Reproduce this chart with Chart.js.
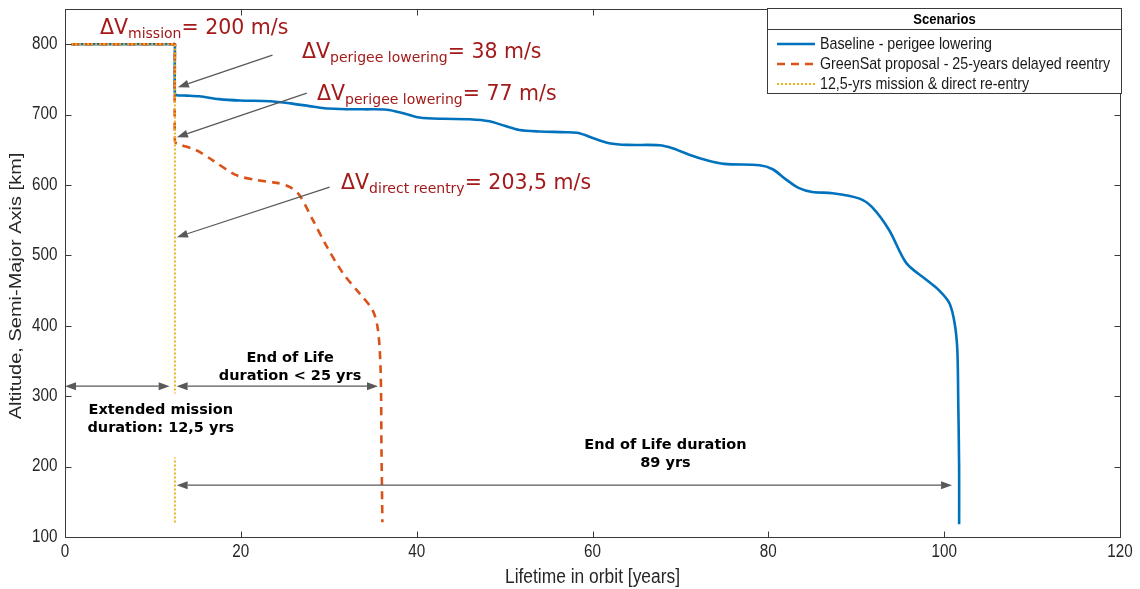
<!DOCTYPE html>
<html><head><meta charset="utf-8">
<script src="https://cdn.jsdelivr.net/npm/chart.js@4.4.1/dist/chart.umd.min.js"></script>
<style>html,body{margin:0;padding:0;background:#fff;}#wrap{width:1140px;height:589px;}</style>
</head><body><div id="wrap"><canvas id="c" width="1140" height="589"></canvas></div>
<script>
// ---------- data ----------
const xTicks = [0, 20, 40, 60, 80, 100, 120];
const yTicks = [100, 200, 300, 400, 500, 600, 700, 800];
const xTitle = 'Lifetime in orbit [years]';
const yTitle = 'Altitude, Semi-Major Axis [km]';
const legendTitle = 'Scenarios';
const seriesNames = ['Baseline - perigee lowering', 'GreenSat proposal - 25-years delayed reentry', '12,5-yrs mission & direct re-entry'];

// [years, km]
const baseline = [[0.7,800],[12.3,800],[12.5,800],[12.5,795],[12.5,730],[12.7,727.5],[13.8,727],[15.3,726],[17.5,722],[19.9,720],[23.3,719],[25.6,716],[27.8,712],[29.5,709],[31.3,708],[34,707.5],[36.6,707],[38.5,702],[40.3,696],[43,694],[46,693.5],[48.3,690.6],[50,684],[51.7,678],[54,676],[57,675],[58.5,673.6],[60.2,666],[61.9,659.4],[64,657],[67.6,656.5],[69.1,652.3],[71,643],[73,635.2],[75,630],[79,628],[80.5,622.4],[82,608],[83.5,595.5],[85,590],[87.3,588.4],[90.3,581],[91.8,568.5],[93.75,535.8],[95.7,489],[98,465],[99.4,450.6],[100.6,432],[101.2,403],[101.5,365],[101.6,294],[101.7,200],[101.7,118]];
const greenSat = [[0.7,800],[12.3,800],[12.5,800],[12.5,795],[12.5,662],[12.7,659],[15,649],[16.8,635],[19.5,614],[21.8,607],[24.1,603],[25.6,597],[26.7,585],[28.2,550],[29.8,512],[31.6,475],[33.5,446],[35,422],[35.6,394],[35.9,337],[36,223],[36.1,121]];
const directReentry = [[0.7,800],[12.5,800],[12.5,120]];

const toPts = a => a.map(p => ({x: p[0], y: p[1]}));

// ---------- drawing helpers ----------
const RED = '#a31a1a';
const GRAY = '#595959';
const SX = 0.87; // horizontal compression of the axis/legend lettering in the reference

function sqText(ctx, text, x, y, align, baseline, sx) {
  ctx.save();
  ctx.translate(x, y);
  ctx.scale(sx === undefined ? SX : sx, 1);
  ctx.textAlign = align || 'left';
  ctx.textBaseline = baseline || 'alphabetic';
  ctx.fillText(text, 0, 0);
  ctx.restore();
}

function arrowHead(ctx, x1, y1, x2, y2, len, hw) {
  const a = Math.atan2(y2 - y1, x2 - x1);
  ctx.beginPath();
  ctx.moveTo(x2, y2);
  ctx.lineTo(x2 - len*Math.cos(a) + hw*Math.sin(a), y2 - len*Math.sin(a) - hw*Math.cos(a));
  ctx.lineTo(x2 - len*Math.cos(a) - hw*Math.sin(a), y2 - len*Math.sin(a) + hw*Math.cos(a));
  ctx.closePath();
  ctx.fill();
}
function arrow(ctx, x1, y1, x2, y2, both) {
  const len = 11, hw = 4;
  const a = Math.atan2(y2 - y1, x2 - x1);
  ctx.beginPath();
  const sx = both ? x1 + len*Math.cos(a) : x1, sy = both ? y1 + len*Math.sin(a) : y1;
  ctx.moveTo(sx, sy);
  ctx.lineTo(x2 - len*Math.cos(a), y2 - len*Math.sin(a));
  ctx.stroke();
  arrowHead(ctx, x1, y1, x2, y2, len, hw);
  if (both) arrowHead(ctx, x2, y2, x1, y1, len, hw);
}
function dvText(ctx, x, y, sub, rest) {
  ctx.fillStyle = RED;
  ctx.textAlign = 'left';
  ctx.textBaseline = 'alphabetic';
  const big = '20.5px "DejaVu Sans"', small = '14px "DejaVu Sans"';
  ctx.font = big;
  ctx.fillText('ΔV', x, y);
  let w = ctx.measureText('ΔV').width;
  ctx.font = small;
  ctx.fillText(sub, x + w, y + 4);
  w += ctx.measureText(sub).width;
  ctx.font = big;
  ctx.fillText(rest, x + w, y);
}

const annotations = {
  id: 'annotations',
  afterDatasetsDraw(chart) {
    const ctx = chart.ctx;
    const X = v => chart.scales.x.getPixelForValue(v);
    const Y = v => chart.scales.y.getPixelForValue(v);
    ctx.save();
    // white text box of the mission label (hides the dotted line behind it)
    ctx.fillStyle = '#fff';
    ctx.fillRect(X(2.2), Y(304), X(20) - X(2.2), Y(213) - Y(304));

    ctx.strokeStyle = GRAY; ctx.fillStyle = GRAY; ctx.lineWidth = 1.3;
    arrow(ctx, X(23.6), Y(784.4), X(12.84), Y(738.9), false);
    arrow(ctx, X(27.5), Y(730.4), X(12.73), Y(667.9), false);
    arrow(ctx, X(30.1), Y(596.9), X(12.73), Y(525.9), false);
    arrow(ctx, X(0), Y(314.2), X(11.9), Y(314.2), true);
    arrow(ctx, X(12.7), Y(314.2), X(35.6), Y(314.2), true);
    arrow(ctx, X(12.7), Y(173.6), X(100.9), Y(173.6), true);

    dvText(ctx, X(3.98), Y(814), 'mission', '= 200 m/s');
    dvText(ctx, X(26.96), Y(781), 'perigee lowering', '= 38 m/s');
    dvText(ctx, X(28.67), Y(720.5), 'perigee lowering', '= 77 m/s');
    dvText(ctx, X(31.4), Y(594.5), 'direct reentry', '= 203,5 m/s');

    ctx.fillStyle = '#000';
    ctx.font = 'bold 14.5px "DejaVu Sans"';
    sqText(ctx, 'Extended mission', X(10.9), Y(280), 'center', 'middle', 1);
    sqText(ctx, 'duration: 12,5 yrs', X(10.9), Y(255), 'center', 'middle', 1);
    sqText(ctx, 'End of Life', X(25.6), Y(354), 'center', 'middle', 1);
    sqText(ctx, 'duration < 25 yrs', X(25.6), Y(328.5), 'center', 'middle', 1);
    sqText(ctx, 'End of Life duration', X(68.3), Y(230), 'center', 'middle', 1);
    sqText(ctx, '89 yrs', X(68.3), Y(205), 'center', 'middle', 1);
    ctx.restore();
  }
};

const matlabAxes = {
  id: 'matlabAxes',
  afterDraw(chart) {
    const ctx = chart.ctx, a = chart.chartArea;
    const X = v => chart.scales.x.getPixelForValue(v);
    const Y = v => chart.scales.y.getPixelForValue(v);
    ctx.save();
    ctx.strokeStyle = '#3a3a3a'; ctx.lineWidth = 1;
    const L = Math.round(a.left) + 0.5, R = Math.round(a.right) + 0.5, T = Math.round(a.top) + 0.5, B = Math.round(a.bottom) + 0.5;
    ctx.strokeRect(L, T, R - L, B - T);
    ctx.beginPath();
    xTicks.forEach(v => { const px = Math.round(X(v)) + 0.5; ctx.moveTo(px, B); ctx.lineTo(px, B - 6); ctx.moveTo(px, T); ctx.lineTo(px, T + 6); });
    yTicks.forEach(v => { const py = Math.round(Y(v)) + 0.5; ctx.moveTo(L, py); ctx.lineTo(L + 6, py); ctx.moveTo(R, py); ctx.lineTo(R - 6, py); });
    ctx.stroke();
    ctx.fillStyle = '#262626';
    ctx.font = '17.5px "Liberation Sans"';
    xTicks.forEach(v => sqText(ctx, String(v), X(v), B + 6, 'center', 'top'));
    yTicks.forEach(v => sqText(ctx, String(v), L - 8, Y(v), 'right', 'middle'));
    ctx.font = '20px "Liberation Sans"';
    sqText(ctx, xTitle, (a.left + a.right) / 2, 577, 'center', 'middle');
    ctx.save();
    ctx.translate(16, 286);
    ctx.rotate(-Math.PI / 2);
    ctx.scale(1, SX);
    ctx.textAlign = 'center'; ctx.textBaseline = 'middle';
    ctx.fillText(yTitle, 0, 0);
    ctx.restore();

    // legend
    const lx = 767.5, ly = 8.5, lw = 354, lh = 85;
    ctx.fillStyle = '#fff';
    ctx.fillRect(lx, ly, lw, lh);
    ctx.strokeStyle = '#3a3a3a';
    ctx.strokeRect(lx, ly, lw, lh);
    ctx.beginPath(); ctx.moveTo(lx, 29.5); ctx.lineTo(lx + lw, 29.5); ctx.stroke();
    ctx.fillStyle = '#000';
    ctx.font = 'bold 15px "Liberation Sans"';
    sqText(ctx, legendTitle, lx + lw / 2, 19.5, 'center', 'middle');
    const ds = chart.data.datasets;
    const rows = [44, 64, 84];
    ds.forEach((d, i) => {
      ctx.save();
      ctx.strokeStyle = d.borderColor; ctx.lineWidth = d.borderWidth;
      ctx.setLineDash(d.borderDash || []);
      ctx.beginPath(); ctx.moveTo(777, rows[i]); ctx.lineTo(815, rows[i]); ctx.stroke();
      ctx.restore();
      ctx.fillStyle = '#1a1a1a';
      ctx.font = '16.4px "Liberation Sans"';
      sqText(ctx, seriesNames[i], 820, rows[i], 'left', 'middle');
    });
    ctx.restore();
  }
};

new Chart(document.getElementById('c'), {
  type: 'line',
  data: {
    datasets: [
      { label: seriesNames[0], data: toPts(baseline), borderColor: '#0072BD', borderWidth: 2.6, tension: 0.3, order: 3 },
      { label: seriesNames[1], data: toPts(greenSat), borderColor: '#D95319', borderWidth: 2.6, borderDash: [8, 6], tension: 0.3, order: 2 },
      { label: seriesNames[2], data: toPts(directReentry), borderColor: '#EDB120', borderWidth: 2, borderDash: [2, 2], tension: 0, order: 1 }
    ]
  },
  options: {
    responsive: false, animation: false, devicePixelRatio: 1,
    layout: { padding: { top: 9, right: 20, left: 0, bottom: 0 } },
    plugins: { legend: { display: false }, tooltip: { enabled: false } },
    elements: { point: { radius: 0 } },
    scales: {
      x: { type: 'linear', min: 0, max: 120, grid: { display: false }, border: { display: false }, ticks: { display: false }, afterFit(s) { s.height = 52; } },
      y: { type: 'linear', min: 100, max: 850, grid: { display: false }, border: { display: false }, ticks: { display: false }, afterFit(s) { s.width = 65; } }
    }
  },
  plugins: [annotations, matlabAxes]
});
</script></body></html>
